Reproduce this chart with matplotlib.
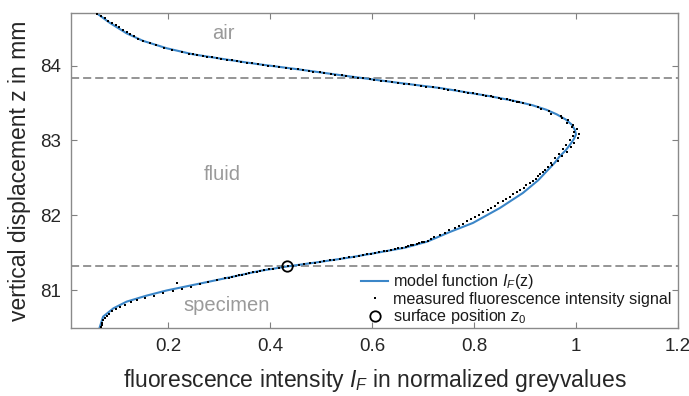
import numpy as np
import matplotlib
matplotlib.use("Agg")
import matplotlib.pyplot as plt

# model function I_F(z) (z in mm, I normalized)
model_z = [84.70, 84.57, 84.43, 84.33, 84.23, 84.15, 84.08, 84.02, 83.95, 83.87,
           83.78, 83.70, 83.59, 83.53, 83.47, 83.41, 83.35, 83.28, 83.21, 83.14,
           83.08, 83.02, 82.95, 82.87, 82.78, 82.70, 82.60, 82.47, 82.30, 82.10,
           81.90, 81.78, 81.65, 81.57, 81.51, 81.44, 81.38, 81.32, 81.26, 81.19,
           81.12, 81.00, 80.93, 80.85, 80.76, 80.65, 80.50]
model_I = [0.060, 0.086, 0.119, 0.151, 0.198, 0.249, 0.315, 0.375, 0.455, 0.540,
           0.640, 0.734, 0.832, 0.878, 0.915, 0.942, 0.962, 0.980, 0.992, 0.998,
           1.000, 0.996, 0.989, 0.980, 0.967, 0.958, 0.944, 0.926, 0.896, 0.851,
           0.798, 0.753, 0.708, 0.665, 0.616, 0.557, 0.498, 0.434, 0.380, 0.332,
           0.283, 0.198, 0.158, 0.119, 0.093, 0.073, 0.066]

# measured signal, upper steep part
meas_top_z = [84.69, 84.66, 84.63, 84.60, 84.57, 84.54, 84.51, 84.48, 84.45, 84.42,
              84.39, 84.36, 84.33, 84.30, 84.27, 84.24, 84.21, 84.18, 84.16]
meas_top_I = [0.062, 0.069, 0.076, 0.083, 0.091, 0.098, 0.105, 0.112, 0.119, 0.126,
              0.134, 0.142, 0.152, 0.164, 0.177, 0.192, 0.209, 0.228, 0.241]

# measured signal, air/fluid transition
meas_air_z = [84.15, 84.14, 84.13, 84.12, 84.11, 84.10, 84.09, 84.08, 84.07, 84.06,
              84.05, 84.04, 84.03, 84.02, 84.01, 84.00, 83.99, 83.98, 83.97, 83.96,
              83.95, 83.94, 83.93, 83.92, 83.91, 83.90, 83.89, 83.88, 83.87, 83.86,
              83.85, 83.84, 83.83, 83.82, 83.81, 83.80, 83.79, 83.78, 83.77, 83.76,
              83.75, 83.74, 83.73, 83.72, 83.71, 83.70, 83.69, 83.68, 83.67, 83.66,
              83.65, 83.64, 83.63, 83.62, 83.61, 83.60, 83.59, 83.58, 83.57, 83.56,
              83.55, 83.54, 83.53, 83.52, 83.51, 83.50]
meas_air_I = [0.249, 0.258, 0.268, 0.276, 0.287, 0.296, 0.305, 0.316, 0.325, 0.336,
              0.344, 0.356, 0.364, 0.376, 0.386, 0.397, 0.409, 0.418, 0.432, 0.441,
              0.455, 0.464, 0.477, 0.485, 0.498, 0.507, 0.519, 0.528, 0.541, 0.550,
              0.562, 0.573, 0.583, 0.596, 0.605, 0.618, 0.628, 0.640, 0.651, 0.663,
              0.672, 0.685, 0.697, 0.706, 0.720, 0.731, 0.742, 0.750, 0.762, 0.770,
              0.781, 0.788, 0.799, 0.806, 0.818, 0.824, 0.833, 0.838, 0.850, 0.853,
              0.864, 0.870, 0.876, 0.884, 0.889, 0.897]

# measured signal, around the maximum (fluid)
meas_mid_z = [83.48, 83.45, 83.42, 83.39, 83.36, 83.33, 83.30, 83.27, 83.24, 83.21,
              83.18, 83.15, 83.12, 83.09, 83.06, 83.03, 83.00, 82.97, 82.94, 82.91,
              82.88, 82.85, 82.82, 82.79, 82.76, 82.73, 82.70, 82.67, 82.64, 82.61,
              82.58, 82.55, 82.52, 82.49, 82.46, 82.43, 82.40, 82.37, 82.34, 82.31,
              82.28, 82.25, 82.22, 82.19, 82.16, 82.13, 82.10, 82.07, 82.04, 82.01,
              81.98, 81.95, 81.92, 81.89, 81.86, 81.83, 81.80, 81.77, 81.74, 81.71,
              81.68]
meas_mid_I = [0.910, 0.925, 0.932, 0.948, 0.952, 0.970, 0.972, 0.985, 0.983, 0.995,
              0.992, 1.003, 0.996, 1.006, 0.994, 1.004, 0.988, 0.996, 0.980, 0.990,
              0.975, 0.982, 0.966, 0.972, 0.958, 0.964, 0.952, 0.954, 0.946, 0.940,
              0.936, 0.930, 0.926, 0.921, 0.915, 0.910, 0.903, 0.898, 0.890, 0.884,
              0.877, 0.871, 0.863, 0.857, 0.848, 0.842, 0.834, 0.827, 0.818, 0.810,
              0.803, 0.795, 0.786, 0.779, 0.770, 0.762, 0.752, 0.743, 0.733, 0.722,
              0.716]

# measured signal, fluid/specimen transition
meas_surf_z = [81.66, 81.65, 81.64, 81.63, 81.62, 81.61, 81.60, 81.59, 81.58, 81.57,
               81.56, 81.55, 81.54, 81.53, 81.52, 81.51, 81.50, 81.49, 81.48, 81.47,
               81.46, 81.45, 81.44, 81.43, 81.42, 81.41, 81.40, 81.39, 81.38, 81.37,
               81.36, 81.35, 81.34, 81.33, 81.32, 81.31, 81.30, 81.29, 81.28, 81.27,
               81.26, 81.25, 81.24, 81.23, 81.22, 81.21, 81.20, 81.19, 81.18, 81.17,
               81.16, 81.10]
meas_surf_I = [0.710, 0.703, 0.698, 0.692, 0.688, 0.681, 0.677, 0.670, 0.666, 0.658,
               0.652, 0.645, 0.638, 0.630, 0.624, 0.614, 0.607, 0.598, 0.591, 0.582,
               0.574, 0.564, 0.556, 0.545, 0.537, 0.526, 0.518, 0.507, 0.499, 0.488,
               0.478, 0.467, 0.458, 0.446, 0.436, 0.425, 0.417, 0.406, 0.398, 0.389,
               0.381, 0.374, 0.367, 0.360, 0.353, 0.346, 0.340, 0.333, 0.326, 0.319,
               0.312, 0.217]

# measured signal, lower steep part (specimen)
meas_bot_z = [81.14, 81.11, 81.08, 81.05, 81.02, 80.99, 80.96, 80.93, 80.90, 80.87,
              80.84, 80.81, 80.78, 80.75, 80.72, 80.69, 80.66, 80.63, 80.60, 80.57,
              80.54, 80.51]
meas_bot_I = [0.296, 0.279, 0.262, 0.246, 0.228, 0.210, 0.190, 0.172, 0.155, 0.140,
              0.128, 0.116, 0.106, 0.098, 0.091, 0.085, 0.080, 0.076, 0.073, 0.071,
              0.070, 0.069]

# boundaries and surface position
z_air_fluid = 83.84
z_surface = 81.32
I_surface = 0.434

regions = ["air", "fluid", "specimen"]
region_z = [84.43, 82.54, 80.80]
region_I = [0.308, 0.307, 0.315]

xticks = [0.2, 0.4, 0.6, 0.8, 1.0, 1.2]
xticklabels = ["0.2", "0.4", "0.6", "0.8", "1", "1.2"]
yticks = [81, 82, 83, 84]

plt.rcParams["font.family"] = ["Liberation Sans", "DejaVu Sans"]
plt.rcParams["mathtext.fontset"] = "custom"
plt.rcParams["mathtext.rm"] = "Liberation Sans"
plt.rcParams["mathtext.it"] = "Liberation Sans:italic"

fig = plt.figure(figsize=(6.89, 3.96), dpi=100)
ax = fig.add_axes([0.103, 0.172, 0.881, 0.795])

meas_z = meas_top_z + meas_air_z + meas_mid_z + meas_surf_z + meas_bot_z
meas_I = meas_top_I + meas_air_I + meas_mid_I + meas_surf_I + meas_bot_I

ax.axhline(z_air_fluid, color="#8c8c8c", lw=1.3, ls=(0, (4.5, 2.2)), zorder=1)
ax.axhline(z_surface, color="#8c8c8c", lw=1.3, ls=(0, (4.5, 2.2)), zorder=1)

l1, = ax.plot(model_I, model_z, color="#3b86c8", lw=1.5, zorder=2,
              label=r"model function $I_F$(z)")
l2, = ax.plot(meas_I, meas_z, ls="none", marker="s", ms=1.5, color="black",
              mew=0, zorder=3, label="measured fluorescence intensity signal")
l3, = ax.plot([I_surface], [z_surface], ls="none", marker="o", ms=7.5,
              mfc="none", mec="black", mew=1.3, zorder=4,
              label=r"surface position $z_0$")

for name, zz, ii in zip(regions, region_z, region_I):
    ax.text(ii, zz, name, color="#9a9a9a", fontsize=14.5, ha="center", va="center")

ax.set_xlim(0.01, 1.2)
ax.set_ylim(80.5, 84.7)
ax.set_xticks(xticks)
ax.set_xticklabels(xticklabels)
ax.set_yticks(yticks)
ax.tick_params(direction="in", length=4, width=0.8, color="#808080",
               top=True, right=True, labelsize=13.5, labelcolor="#262626", pad=7)
for s in ax.spines.values():
    s.set_color("#8a8a8a")
    s.set_linewidth(1.0)

ax.set_xlabel(r"fluorescence intensity $I_F$ in normalized greyvalues",
              fontsize=16.5, color="#262626", labelpad=9)
ax.set_ylabel("vertical displacement z in mm", fontsize=16.5, color="#262626",
              labelpad=7)

leg = ax.legend(handles=[l1, l2, l3], loc="lower right", frameon=False,
                bbox_to_anchor=(1.0, -0.016), borderaxespad=0,
                fontsize=11.6, handlelength=1.7, handletextpad=0.3,
                labelspacing=0.04)
for t in leg.get_texts():
    t.set_color("#1a1a1a")

fig.savefig("out.png", dpi=100)
